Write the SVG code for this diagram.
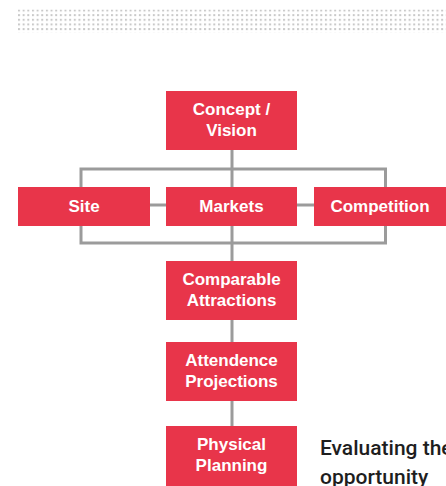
<svg xmlns="http://www.w3.org/2000/svg" width="446" height="486" viewBox="0 0 446 486">
  <defs>
    <pattern id="dots" x="18" y="9.5" width="4.65" height="4.65" patternUnits="userSpaceOnUse">
      <rect x="0" y="0" width="2" height="2" fill="#c9c9c9"/>
    </pattern>
    <style>
      .box { fill: #e8354a; }
      .lbl { font-family: "Liberation Sans", Arial, sans-serif; font-weight: bold; font-size: 17px; fill: #ffffff; text-anchor: middle; }
      .wire { stroke: #9b9b9b; stroke-width: 3; fill: none; }
      .note { font-family: Roboto, "Liberation Sans", Arial, sans-serif; font-weight: 500; font-size: 21px; fill: #1e1e1e; }
    </style>
  </defs>

  <rect width="446" height="486" fill="#ffffff"/>

  <!-- dotted band along the top -->
  <rect x="18" y="9.5" width="428" height="23" fill="url(#dots)"/>

  <!-- connectors -->
  <g id="connectors">
    <line class="wire" x1="232" y1="150" x2="232" y2="187"/>
    <polyline class="wire" points="81,187 81,169 385.5,169 385.5,187"/>
    <polyline class="wire" points="81,226 81,243 385.5,243 385.5,226"/>
    <line class="wire" x1="150" y1="205" x2="166" y2="205"/>
    <line class="wire" x1="297" y1="205" x2="314" y2="205"/>
    <line class="wire" x1="232" y1="226" x2="232" y2="261"/>
    <line class="wire" x1="232" y1="320" x2="232" y2="342"/>
    <line class="wire" x1="232" y1="401" x2="232" y2="426"/>
  </g>

  <g id="concept">
    <rect class="box" x="166" y="91" width="131" height="59"/>
    <text class="lbl" x="231.5" y="115">Concept /</text>
    <text class="lbl" x="231.5" y="136">Vision</text>
  </g>

  <g id="site">
    <rect class="box" x="18" y="187" width="132" height="39"/>
    <text class="lbl" x="84" y="212">Site</text>
  </g>

  <g id="markets">
    <rect class="box" x="166" y="187" width="131" height="39"/>
    <text class="lbl" x="231.5" y="212">Markets</text>
  </g>

  <g id="competition">
    <rect class="box" x="314" y="187" width="132" height="39"/>
    <text class="lbl" x="380" y="212">Competition</text>
  </g>

  <g id="comparable">
    <rect class="box" x="166" y="261" width="131" height="59"/>
    <text class="lbl" x="231.5" y="285">Comparable</text>
    <text class="lbl" x="231.5" y="305.5">Attractions</text>
  </g>

  <g id="attendance">
    <rect class="box" x="166" y="342" width="131" height="59"/>
    <text class="lbl" x="231.5" y="366">Attendence</text>
    <text class="lbl" x="231.5" y="386.5">Projections</text>
  </g>

  <g id="planning">
    <rect class="box" x="166" y="426" width="131" height="60"/>
    <text class="lbl" x="231.5" y="450">Physical</text>
    <text class="lbl" x="231.5" y="470.5">Planning</text>
  </g>

  <text class="note" x="320" y="455">Evaluating the</text>
  <text class="note" x="320" y="483.5">opportunity</text>
</svg>
